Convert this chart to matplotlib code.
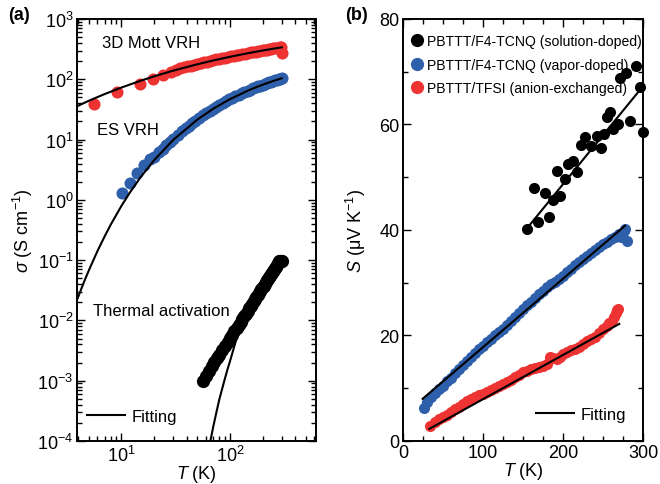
import matplotlib
matplotlib.use('Agg')
import matplotlib.pyplot as plt
from matplotlib.lines import Line2D
from matplotlib.ticker import MultipleLocator, LogLocator, NullFormatter

plt.rcParams['font.family'] = ['Liberation Sans', 'DejaVu Sans']
plt.rcParams['mathtext.fontset'] = 'custom'
plt.rcParams['mathtext.rm'] = 'Liberation Sans'
plt.rcParams['mathtext.it'] = 'Liberation Sans:italic'

RED = '#EE3333'
BLUE = '#2E5FAA'

# ---- panel (a): conductivity vs T ----
mott_T = [5.6, 9.2, 14.7, 19.5, 24.1, 28.8, 32, 35, 38, 41, 44, 47, 50, 54, 58, 62, 66, 70, 75, 80, 85, 90,
          96, 102, 108, 115, 122, 130, 138, 146, 155, 164, 173, 182, 191, 200, 210, 220, 230, 240, 250,
          260, 270, 280, 290, 296, 300]
mott_sigma = [39, 62, 84, 101, 118, 131, 145, 151, 158, 164, 169, 174, 179, 185, 191, 197, 202, 207, 213,
              218, 224, 229, 234, 240, 245, 250, 256, 261, 267, 272, 278, 283, 288, 293, 297, 302, 307, 311,
              316, 320, 324, 328, 332, 335, 339, 341, 272]
mott_fit_T = [3.7, 5, 7, 10, 15, 20, 30, 50, 70, 100, 150, 200, 250, 300]
mott_fit_sigma = [34.1, 43.9, 56.8, 72.9, 94.4, 111.7, 138.9, 177.3, 204.9, 235.9, 272.8, 300.0, 321.1, 338.9]

es_T = [10.2, 12.1, 13.8, 16.3, 18.2, 20, 22, 24, 26, 28, 30, 33, 36, 39, 42, 45, 48, 52, 56, 60, 65, 70,
        75, 80, 86, 92, 98, 105, 112, 120, 128, 136, 145, 154, 163, 172, 181, 190, 200, 210, 220, 230,
        240, 250, 260, 270, 280, 290, 300]
es_sigma = [1.3, 1.9, 2.8, 3.8, 4.8, 5.2, 6.1, 7.1, 8.1, 9.2, 10.3, 12.0, 13.7, 15.4, 17.1, 18.8, 20.6,
            22.9, 25.1, 27.3, 30.1, 32.7, 35.3, 37.8, 40.7, 43.5, 46.2, 49.2, 52.1, 55.3, 58.4, 61.4, 64.6,
            67.6, 70.6, 73.4, 76.0, 78.6, 81.3, 83.9, 86.5, 89.0, 91.4, 93.6, 95.8, 97.9, 100.0, 102.0, 104.0]
es_fit_T = [3.9, 4.5, 5, 6, 7, 8, 10, 12, 15, 20, 30, 50, 70, 100, 150, 200, 250, 300]
es_fit_sigma = [0.0219, 0.0425, 0.067, 0.14, 0.247, 0.392, 0.793, 1.332, 2.368, 4.55, 9.86, 21.4, 32.4,
                46.8, 66.2, 81.3, 93.6, 103.9]

ta_T = [56, 60, 64, 68, 72, 76, 80, 85, 90, 95, 100, 105, 110, 115, 120, 125, 130, 135, 140, 145, 150,
        155, 160, 165, 170, 175, 180, 185, 190, 195, 200, 205, 210, 215, 220, 225, 230, 235, 240, 245,
        250, 255, 260, 265, 270, 275, 280, 285, 290, 295, 300]
ta_sigma = [1.0e-3, 1.21e-3, 1.45e-3, 1.72e-3, 2.02e-3, 2.35e-3, 2.71e-3, 3.22e-3, 3.78e-3, 4.39e-3,
            5.07e-3, 5.81e-3, 6.62e-3, 7.50e-3, 8.45e-3, 9.47e-3, 1.06e-2, 1.18e-2, 1.30e-2, 1.43e-2,
            1.58e-2, 1.73e-2, 1.89e-2, 2.06e-2, 2.24e-2, 2.43e-2, 2.63e-2, 2.84e-2, 3.06e-2, 3.29e-2,
            3.53e-2, 3.79e-2, 4.05e-2, 4.32e-2, 4.61e-2, 4.90e-2, 5.22e-2, 5.54e-2, 5.88e-2, 6.23e-2,
            6.60e-2, 6.97e-2, 7.35e-2, 7.8e-2, 8.3e-2, 8.8e-2, 9.2e-2, 9.5e-2, 9.7e-2, 9.8e-2, 9.8e-2]
ta_fit_T = [66, 70, 75, 80, 85, 90, 95, 100, 110, 120, 140, 160, 180, 200, 230, 260, 300]
ta_fit_sigma = [1.0e-4, 1.7e-4, 3.0e-4, 5.0e-4, 7.5e-4, 1.1e-3, 1.55e-3, 2.1e-3, 3.8e-3, 6.5e-3, 1.25e-2,
                1.9e-2, 2.6e-2, 3.4e-2, 5.0e-2, 7.0e-2, 9.6e-2]

# ---- panel (b): Seebeck vs T ----
sol_T = [155.4, 163.8, 169, 178, 182.9, 188, 193, 196, 202.5, 206.6, 212, 217, 222, 227.5, 234.6, 242,
         247, 251, 255, 258.8, 263, 269, 271, 278.8, 283.8, 291, 296, 300]
sol_S = [40.2, 48.0, 41.6, 47.0, 42.4, 45.7, 51.2, 46.5, 49.7, 52.5, 53.1, 50.9, 56.2, 57.7, 56.0, 57.9,
         55.5, 58.2, 61.4, 62.3, 59.1, 60.1, 68.9, 69.8, 60.7, 71.1, 67.2, 58.5]
sol_fit_T = [156, 295.4]
sol_fit_S = [40.5, 66.4]

vap_T = [26, 30, 35, 40, 45, 50, 55, 60, 65, 70, 75, 80, 85, 90, 95, 100, 105, 110, 115, 120, 125, 130,
         135, 140, 145, 150, 155, 160, 165, 170, 175, 180, 185, 190, 195, 200, 205, 210, 215, 220, 225,
         230, 235, 240, 245, 250, 255, 260, 265, 270, 273, 276, 278, 280]
vap_S = [6.3, 7.3, 8.3, 9.1, 9.8, 10.5, 11.3, 12.0, 12.8, 13.6, 14.4, 15.1, 15.9, 16.6, 17.4, 18.1, 18.7,
         19.4, 20.0, 20.6, 21.3, 22.0, 22.8, 23.5, 24.3, 25.0, 25.7, 26.4, 27.1, 27.8, 28.5, 29.1, 29.7,
         30.2, 30.8, 31.3, 32.0, 32.6, 33.3, 33.9, 34.5, 35.1, 35.6, 36.2, 36.8, 37.3, 37.7, 38.2, 38.7,
         39.2, 38.6, 39.8, 40.2, 38.0]
vap_fit_T = [24.6, 277.5]
vap_fit_S = [8.0, 40.8]

tfsi_T = [33.75, 40, 45, 50, 55, 60, 65, 70, 75, 80, 85, 90, 95, 100, 105, 110, 115, 120, 125, 130, 135,
          140, 145, 150, 155, 160, 165, 170, 175, 180, 184, 188, 192, 196, 200, 205, 210, 215, 220, 225,
          230, 235, 240, 245, 250, 255, 258, 261, 264, 266, 268, 269]
tfsi_S = [2.9, 3.6, 4.1, 4.5, 5.0, 5.5, 6.0, 6.5, 7.0, 7.5, 8.0, 8.4, 8.7, 8.9, 9.2, 9.6, 10.1, 10.5,
          10.8, 11.2, 11.6, 12.1, 12.5, 13.0, 13.3, 13.6, 13.9, 14.1, 14.3, 14.5, 15.9, 15.8, 15.6, 16.0,
          16.5, 16.9, 17.2, 17.5, 17.9, 18.4, 18.9, 19.3, 19.8, 20.4, 21.2, 21.8, 22.3, 22.8, 23.5, 24.2,
          24.8, 25.0]
tfsi_fit_T = [32.9, 270.4]
tfsi_fit_S = [2.3, 22.2]

legend_labels = ['PBTTT/F4-TCNQ (solution-doped)', 'PBTTT/F4-TCNQ (vapor-doped)',
                 'PBTTT/TFSI (anion-exchanged)']

fig = plt.figure(figsize=(6.6, 4.85), dpi=100)
ax1 = fig.add_axes([0.1167, 0.0887, 0.3621, 0.8701])
ax2 = fig.add_axes([0.6106, 0.0887, 0.3636, 0.8701])

# (a)
ma = 8.7
ax1.plot(mott_T, mott_sigma, 'o', color=RED, ms=ma, mec='none', zorder=2)
ax1.plot(mott_fit_T, mott_fit_sigma, '-', color='black', lw=1.5, zorder=3)
ax1.plot(es_T, es_sigma, 'o', color=BLUE, ms=ma, mec='none', zorder=2)
ax1.plot(es_fit_T, es_fit_sigma, '-', color='black', lw=1.5, zorder=3)
ax1.plot(ta_fit_T, ta_fit_sigma, '-', color='black', lw=1.5, zorder=2)
ax1.plot(ta_T, ta_sigma, 'o', color='black', ms=9.5, mec='none', zorder=3)
ax1.set_xscale('log')
ax1.set_yscale('log')
ax1.set_xlim(3.9, 620)
ax1.set_ylim(1e-4, 1e3)
ax1.yaxis.set_major_locator(LogLocator(base=10, numticks=10))
ax1.yaxis.set_minor_locator(LogLocator(base=10, subs=range(2, 10), numticks=20))
ax1.yaxis.set_minor_formatter(NullFormatter())
ax1.xaxis.set_minor_formatter(NullFormatter())
ax1.set_xlabel(r'$T$ (K)', fontsize=13, labelpad=-1)
ax1.set_ylabel(r'$\sigma$ (S cm$^{-1}$)', fontsize=13, labelpad=2)
ax1.text(0.105, 0.945, '3D Mott VRH', transform=ax1.transAxes, fontsize=12, va='center')
ax1.text(0.084, 0.737, 'ES VRH', transform=ax1.transAxes, fontsize=12, va='center')
ax1.text(0.067, 0.309, 'Thermal activation', transform=ax1.transAxes, fontsize=12, va='center')
ax1.legend([Line2D([], [], color='black', lw=1.5)], ['Fitting'], loc='lower left',
           bbox_to_anchor=(0.04, 0.04), frameon=False, fontsize=12, handlelength=2.3,
           handletextpad=0.4, borderpad=0, borderaxespad=0)

# (b)
mb = 8.0
ax2.plot(sol_T, sol_S, 'o', color='black', ms=mb, mec='none', clip_on=False, zorder=2)
ax2.plot(sol_fit_T, sol_fit_S, '-', color='black', lw=1.5, zorder=3)
ax2.plot(vap_T, vap_S, 'o', color=BLUE, ms=mb, mec='none', clip_on=False, zorder=2)
ax2.plot(vap_fit_T, vap_fit_S, '-', color='black', lw=1.5, zorder=3)
ax2.plot(tfsi_T, tfsi_S, 'o', color=RED, ms=mb, mec='none', clip_on=False, zorder=2)
ax2.plot(tfsi_fit_T, tfsi_fit_S, '-', color='black', lw=1.5, zorder=3)
ax2.set_xlim(0, 300)
ax2.set_ylim(0, 80)
ax2.xaxis.set_major_locator(MultipleLocator(100))
ax2.xaxis.set_minor_locator(MultipleLocator(25))
ax2.yaxis.set_major_locator(MultipleLocator(20))
ax2.yaxis.set_minor_locator(MultipleLocator(10))
ax2.set_xlabel(r'$T$ (K)', fontsize=13, labelpad=-1)
ax2.set_ylabel(r'$S$ (μV K$^{-1}$)', fontsize=13, labelpad=8)

handles = [Line2D([], [], ls='none', marker='o', ms=9.5, mec='none', color=c) for c in ['black', BLUE, RED]]
leg = ax2.legend(handles, legend_labels, loc='upper left', bbox_to_anchor=(0.03, 0.965), frameon=False,
                 fontsize=10.1, handlelength=1.0, handletextpad=0.2, borderpad=0, borderaxespad=0,
                 labelspacing=0.7)
ax2.add_artist(leg)
ax2.legend([Line2D([], [], color='black', lw=1.5)], ['Fitting'], loc='lower left',
           bbox_to_anchor=(0.554, 0.045), frameon=False, fontsize=12, handlelength=2.3,
           handletextpad=0.4, borderpad=0, borderaxespad=0)

for ax in (ax1, ax2):
    ax.tick_params(which='both', direction='in', top=True, right=True, labelsize=13, width=1.0, pad=2.5)
    ax.tick_params(which='major', length=6)
    ax.tick_params(which='minor', length=3.5)
    ax.xaxis.offsetText.set_visible(False)
    ax.yaxis.offsetText.set_visible(False)
    for sp in ax.spines.values():
        sp.set_linewidth(1.4)

fig.text(0.012, 0.969, '(a)', fontsize=13, fontweight='bold', va='center')
fig.text(0.523, 0.969, '(b)', fontsize=13, fontweight='bold', va='center')

fig.savefig('out.png', dpi=100)
